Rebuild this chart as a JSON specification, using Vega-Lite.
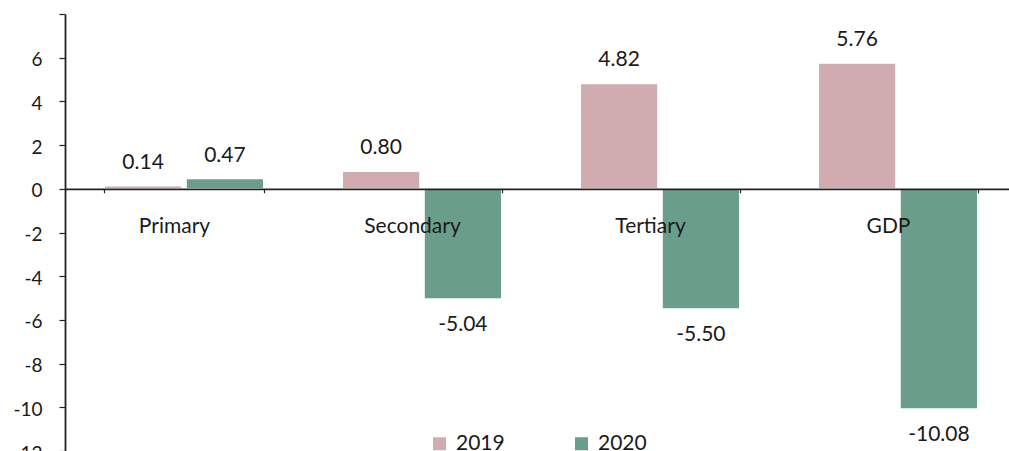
{
  "$schema": "https://vega.github.io/schema/vega-lite/v6.json",
  "autosize": {"type": "none"},
  "padding": {"left": 65, "top": 14, "right": 0, "bottom": 0},
  "width": 944,
  "height": 437,
  "background": "white",
  "config": {
    "font": "Lato",
    "locale": {"number": {"decimal": ".", "thousands": ",", "grouping": [3], "currency": ["$", ""], "minus": "-"}},
    "view": {"stroke": null},
    "axis": {"grid": false, "labelFont": "Lato", "labelColor": "#1a1a1a", "domainColor": "#222222", "tickColor": "#222222", "domainWidth": 1.8, "tickWidth": 1.2}
  },
  "data": {
    "values": [
      {"sector": "Primary", "year": "2019", "value": 0.14},
      {"sector": "Primary", "year": "2020", "value": 0.47},
      {"sector": "Secondary", "year": "2019", "value": 0.80},
      {"sector": "Secondary", "year": "2020", "value": -5.04},
      {"sector": "Tertiary", "year": "2019", "value": 4.82},
      {"sector": "Tertiary", "year": "2020", "value": -5.50},
      {"sector": "GDP", "year": "2019", "value": 5.76},
      {"sector": "GDP", "year": "2020", "value": -10.08}
    ]
  },
  "encoding": {
    "x": {
      "field": "sector", "type": "nominal", "sort": ["Primary", "Secondary", "Tertiary", "GDP"],
      "scale": {"range": [0, 952], "paddingInner": 0.33, "paddingOuter": 0.165},
      "axis": {"title": null, "zindex": 2, "offset": -262.2, "tickBand": "extent", "tickSize": 4, "labelPadding": 40, "labelBaseline": "alphabetic", "labelOffset": -10, "labelFontSize": 21, "labelAngle": 0}
    },
    "xOffset": {"field": "year", "type": "nominal", "scale": {"paddingInner": 0.05, "paddingOuter": 0}},
    "y": {
      "field": "value", "type": "quantitative",
      "scale": {"domain": [-12, 8], "nice": false, "zero": false},
      "axis": {"title": null, "zindex": 2, "values": [-12, -10, -8, -6, -4, -2, 0, 2, 4, 6, 8], "labelExpr": "datum.value == 8 ? '' : datum.label", "tickSize": 6, "labelPadding": 17, "labelFontSize": 19, "labelOffset": 2}
    }
  },
  "layer": [
    {
      "mark": {"type": "bar", "stroke": "white", "strokeWidth": 1.5},
      "encoding": {
        "color": {
          "field": "year", "type": "nominal",
          "scale": {"domain": ["2019", "2020"], "range": ["#D0ACB1", "#6A9E8B"]},
          "legend": {"title": null, "orient": "none", "direction": "horizontal", "legendX": 364, "legendY": 419, "symbolType": "square", "symbolSize": 169, "symbolStrokeWidth": 0, "labelFontSize": 21, "labelColor": "#1a1a1a", "labelOffset": 6, "columnPadding": 66}
        }
      }
    },
    {
      "transform": [{"filter": "datum.value >= 0"}],
      "mark": {"type": "text", "fontSize": 21, "color": "#1a1a1a", "baseline": "alphabetic", "dy": -17},
      "encoding": {"text": {"field": "value", "type": "quantitative", "format": ".2f"}}
    },
    {
      "transform": [{"filter": "datum.value < 0"}],
      "mark": {"type": "text", "fontSize": 21, "color": "#1a1a1a", "baseline": "alphabetic", "dy": 32},
      "encoding": {"text": {"field": "value", "type": "quantitative", "format": ".2f"}}
    }
  ]
}
